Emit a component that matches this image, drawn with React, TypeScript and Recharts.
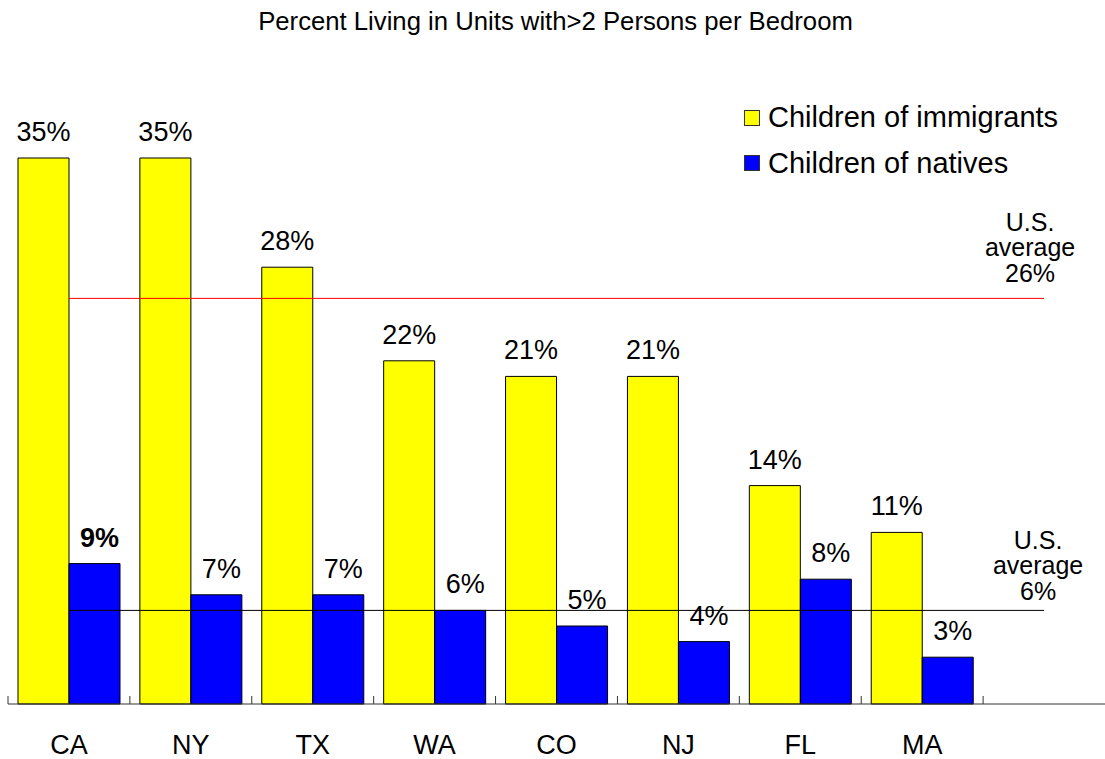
import React from 'react';
import { BarChart, Bar, XAxis, YAxis, ReferenceLine, LabelList, Legend } from 'recharts';

const categories = ['CA', 'NY', 'TX', 'WA', 'CO', 'NJ', 'FL', 'MA', ' '];
const immigrants: (number | null)[] = [35, 35, 28, 22, 21, 21, 14, 11, null];
const natives: (number | null)[] = [9, 7, 7, 6, 5, 4, 8, 3, null];
const boldNativeLabels = ['CA'];
const usAverageImmigrants = 26;
const usAverageNatives = 6;
const seriesNames = ['Children of immigrants', 'Children of natives'];
const titleText = 'Percent Living in Units with>2 Persons per Bedroom';

const data = categories.map((c, i) => ({ name: c, imm: immigrants[i], nat: natives[i] }));

const FONT = '"Liberation Sans", Arial, Helvetica, sans-serif';
const W = 1105;
const H = 759;
const MARGIN = { top: 80, right: 0, bottom: 0, left: 8 };

const CategoryTick = (props: any) => {
  const { x, y, payload, index, width, visibleTicksCount } = props;
  let bw = 0;
  if (width && visibleTicksCount) bw = width / visibleTicksCount;
  else bw = (x - MARGIN.left) / (index + 0.5);
  const bx = x - bw / 2;
  return (
    <g>
      <line x1={bx} x2={bx} y1={y - 8} y2={y} stroke="#333" strokeWidth={1} />
      <text x={x} y={y + 49.5} textAnchor="middle" fontSize={27} fontFamily={FONT} fill="#000">
        {payload.value}
      </text>
    </g>
  );
};

const makeValueLabel = (dx: number, boldList: string[]) => (props: any) => {
  const { x, y, width, value, index } = props;
  if (value === null || value === undefined) return null;
  const bold = boldList.includes(categories[index]);
  return (
    <text
      x={Number(x) + Number(width) / 2 + dx}
      y={Number(y) - 17}
      textAnchor="middle"
      fontSize={27}
      fontFamily={FONT}
      fontWeight={bold ? 'bold' : 'normal'}
      fill="#000"
    >
      {`${value}%`}
    </text>
  );
};

const makeAvgLabel = (value: number, dxCenter: number, offsets: number[]) => (props: any) => {
  const vb = props.viewBox || {};
  const xEnd = vb.x2 !== undefined ? vb.x2 : vb.x + (vb.width || 0);
  const yLine = vb.y1 !== undefined ? vb.y1 : vb.y;
  const lines = ['U.S.', 'average', `${value}%`];
  const cx = xEnd + dxCenter;
  return (
    <text textAnchor="middle" fontSize={25} fontFamily={FONT} fill="#000">
      {lines.map((t, i) => (
        <tspan key={i} x={cx} y={yLine + offsets[i]}>
          {t}
        </tspan>
      ))}
    </text>
  );
};

const LegendContent = (props: any) => {
  const payload = props.payload || [];
  return (
    <div style={{ display: 'flex', flexDirection: 'column' }}>
      {payload.map((p: any, i: number) => (
        <div key={i} style={{ display: 'flex', alignItems: 'center', height: 45.5 }}>
          <div
            style={{
              width: 14,
              height: 14,
              background: p.color,
              border: '1px solid #333',
              marginRight: 8,
            }}
          />
          <span style={{ fontFamily: FONT, fontSize: 29, color: '#000', whiteSpace: 'nowrap' }}>{p.value}</span>
        </div>
      ))}
    </div>
  );
};

export default function App() {
  return (
    <div style={{ position: 'absolute', left: 0, top: 0, width: W, height: H, background: '#fff' }}>
      <div
        style={{
          position: 'absolute',
          top: 9,
          left: 0,
          width: W,
          paddingLeft: 6,
          boxSizing: 'border-box',
          textAlign: 'center',
          fontFamily: FONT,
          fontSize: 25.7,
          lineHeight: '25px',
          color: '#000',
        }}
      >
        {titleText}
      </div>
      <BarChart width={W} height={H} data={data} margin={MARGIN} barCategoryGap={10} barGap={0}>
        <XAxis
          dataKey="name"
          interval={0}
          height={55}
          tickSize={0}
          tickMargin={0}
          tickLine={false}
          axisLine={{ stroke: '#333', strokeWidth: 1 }}
          tick={<CategoryTick />}
        />
        <YAxis hide domain={[0, 40]} />
        <Legend
          layout="vertical"
          align="center"
          verticalAlign="middle"
          wrapperStyle={{ left: 744, top: 95, width: 360, height: 91 }}
          content={<LegendContent />}
        />
        <Bar dataKey="imm" name={seriesNames[0]} fill="#FFFF00" stroke="#000" strokeWidth={1} isAnimationActive={false}>
          <LabelList dataKey="imm" content={makeValueLabel(0, [])} />
        </Bar>
        <Bar dataKey="nat" name={seriesNames[1]} fill="#0000FF" stroke="#000" strokeWidth={1} isAnimationActive={false}>
          <LabelList dataKey="nat" content={makeValueLabel(5, boldNativeLabels)} />
        </Bar>
        <ReferenceLine
          segment={[
            { x: categories[0], y: usAverageImmigrants },
            { x: categories[categories.length - 1], y: usAverageImmigrants },
          ]}
          stroke="#FF0000"
          strokeWidth={1}
          label={makeAvgLabel(usAverageImmigrants, -14, [-67.6, -42.3, -16.6])}
        />
        <ReferenceLine
          segment={[
            { x: categories[0], y: usAverageNatives },
            { x: categories[categories.length - 1], y: usAverageNatives },
          ]}
          stroke="#000"
          strokeWidth={1}
          label={makeAvgLabel(usAverageNatives, -6, [-61.2, -36, -10.4])}
        />
      </BarChart>
    </div>
  );
}
